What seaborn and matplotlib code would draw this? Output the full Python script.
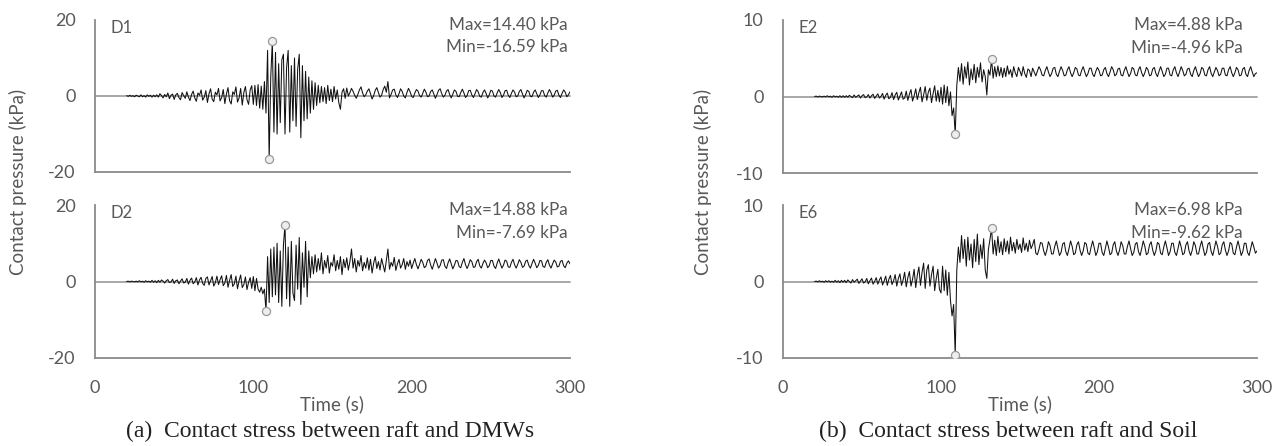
import numpy as np
import matplotlib
matplotlib.use("Agg")
import matplotlib.pyplot as plt
import seaborn as sns

# Sample clock of the records (s)
time_s = np.arange(20, 301)

# Contact pressure between raft and DMWs (kPa)
d1 = [
    0.1, -0.1, 0.2, -0.1, 0.1, -0.2, 0.2, 0.0, -0.2, 0.3, -0.2, 0.1, -0.3, 0.3, -0.1, 0.2, -0.3, 0.2, -0.2, 0.3,
    -0.3, 0.6, 0.1, -0.5, 0.4, -0.2, 0.8, -0.7, 0.2, 0.5, -0.9, 0.3, 0.7, -0.4, -1.0, 0.9, 0.1, -0.6, 1.1, -0.3,
    -1.2, 0.4, 1.3, -0.5, -1.4, 0.8, 0.2, 1.6, -1.1, -0.3, 1.4, -1.7, 0.6, 1.9, -0.8, -1.5, 1.0, 0.3, 2.0, -1.3,
    -0.4, 1.7, -2.0, 0.5, 2.2, -1.2, -2.1, 1.1, 0.4, 2.4, -1.6, -0.5, 2.0, -2.4, 0.9, 2.5, -1.0, -2.2, 1.6, 2.7,
    -2.2, 2.8, -2.5, 3.0, -3.2, 2.6, -3.5, 3.8, -4.5, 12.0, -16.59, 5.0, 14.40, -9.5, 11.5, -10.0, 8.5, -7.0, 9.5, 11.0,
    -10.0, 7.5, 12.0, -9.5, 8.0, -6.5, 10.0, -8.0, 7.0, 11.0, -11.0, 8.0, -6.5, 6.5, -6.0, 5.0, -4.5, 4.0, -3.5, 3.5,
    -2.5, 2.8, -1.8, 2.5, -1.5, 2.2, -2.0, 2.8, -1.2, 1.8, -1.5, 2.5, -0.8, 1.6, -1.8, -3.5, 1.0, 1.9, -0.6, 2.1,
    0.0, 0.9, 2.0, 1.2, 0.2, -0.6, 0.4, 1.6, 2.4, 0.8, -0.2, 0.3, 1.3, 1.9, 0.6, -0.8, 0.1, 1.5, 2.2, 0.9,
    -0.3, 0.2, 1.7, 2.6, 1.0, 3.8, -0.5, 0.4, 1.6, 1.8, 0.3, -0.4, 0.6, 1.9, 1.2, 0.0, -0.5, 0.9, 2.0, 1.1,
    -0.1, -0.4, 0.8, 1.7, 1.3, 0.1, -0.3, 0.7, 1.8, 1.0, -0.2, 0.0, 1.2, 1.6, 0.5, -0.6, 0.4, 1.5, 1.9, 0.6,
    -0.3, 0.2, 1.3, 1.7, 0.4, -0.5, 0.5, 1.6, 1.2, -0.1, -0.2, 0.9, 1.8, 0.8, -0.4, 0.1, 1.4, 1.5, 0.3, -0.4,
    0.6, 1.7, 1.1, -0.1, -0.3, 0.9, 1.6, 0.7, -0.5, 0.3, 1.5, 1.3, 0.0, -0.3, 0.8, 1.7, 0.9, -0.4, 0.2, 1.4,
    1.5, 0.2, -0.4, 0.7, 1.6, 1.0, -0.2, 0.0, 1.2, 1.7, 0.5, -0.5, 0.4, 1.5, 1.2, -0.1, -0.2, 1.0, 1.6, 0.6,
    -0.4, 0.3, 1.4, 1.4, 0.1, -0.3, 0.8, 1.7, 0.9, -0.3, 0.2, 1.3, 1.5, 0.2, -0.4, 0.7, 1.6, 1.0, -0.2, 0.3, 1.1,
]
d2 = [
    0.0, 0.1, -0.1, 0.1, 0.0, -0.1, 0.1, -0.1, 0.2, -0.1, 0.1, -0.2, 0.2, -0.1, 0.1, -0.2, 0.3, -0.2, 0.2, -0.3,
    0.3, -0.2, 0.4, 0.1, -0.4, 0.2, 0.5, -0.3, -0.1, 0.6, -0.5, 0.2, 0.4, -0.6, 0.1, 0.7, -0.4, -0.2, 0.8, -0.7,
    0.3, 0.9, -0.6, -0.1, 1.0, -0.9, 0.4, 1.1, -0.5, -1.0, 0.8, 1.2, -0.9, 0.2, 1.3, -1.2, -0.3, 1.4, -0.8, 0.5,
    1.5, -1.1, -0.4, 1.6, -1.5, 0.3, 1.8, -1.3, -0.6, 1.4, -1.9, 0.2, 1.7, -1.6, -0.8, 1.2, -2.1, -0.2, 1.0, -1.8,
    1.3, -2.4, 0.8, -2.0, -2.8, -1.5, -3.2, -2.0, -7.69, 6.5, -5.5, 8.5, -4.0, 9.0, -3.5, 10.0, -5.5, 8.0, -6.5, 9.5,
    14.88, -4.5, 9.0, -6.5, 10.5, -3.0, -5.0, 9.5, -2.0, 11.5, -6.0, 7.5, -1.5, 10.5, -4.0, 8.0, 1.0, 6.5, 2.0, 7.0,
    2.5, 6.0, 3.0, 7.5, 2.0, 5.5, 3.5, 6.8, 2.2, 5.0, 4.0, 7.0, 2.8, 5.5, 3.2, 6.5, 1.8, 5.8, 3.6, 6.2,
    3.0, 5.2, 8.5, 3.5, 6.0, 2.5, 5.5, 4.0, 6.8, 2.8, 5.0, 3.5, 6.2, 3.0, 5.8, 2.2, 4.8, 6.5, 3.4, 5.2,
    3.0, 6.0, 4.2, 2.5, 5.4, 8.5, 3.2, 5.0, 4.0, 6.3, 2.9, 4.6, 5.8, 3.5, 4.4, 6.0, 3.2, 5.2, 4.0, 5.6,
    3.4, 4.8, 6.0, 4.4, 3.3, 4.5, 5.8, 5.0, 3.6, 4.0, 5.5, 5.9, 4.3, 3.2, 4.6, 6.0, 4.8, 3.5, 4.2, 5.6,
    5.7, 4.0, 3.4, 4.9, 5.9, 4.6, 3.3, 4.3, 5.5, 5.4, 3.9, 3.6, 5.0, 6.0, 4.4, 3.4, 4.4, 5.7, 5.2, 3.7,
    3.8, 5.2, 5.8, 4.1, 3.5, 4.7, 5.6, 4.9, 3.6, 4.1, 5.5, 5.5, 4.0, 3.4, 4.8, 5.9, 4.6, 3.5, 4.3, 5.6,
    5.3, 3.8, 3.7, 5.0, 5.8, 4.4, 3.5, 4.5, 5.7, 5.0, 3.7, 4.0, 5.3, 5.6, 4.2, 3.5, 4.7, 5.8, 4.8, 3.6,
    4.2, 5.5, 5.4, 3.9, 3.7, 5.0, 5.7, 4.3, 3.5, 4.6, 5.6, 5.1, 3.8, 4.0, 5.3, 5.5, 4.1, 3.6, 4.8, 5.4, 4.6,
]

# Contact pressure between raft and soil (kPa)
e2 = [
    0.0, 0.05, -0.05, 0.05, 0.0, -0.05, 0.05, -0.05, 0.1, -0.05, 0.05, -0.1, 0.1, -0.05, 0.05, -0.1, 0.1, -0.1, 0.1, -0.1,
    0.1, -0.1, 0.15, 0.0, -0.15, 0.2, -0.1, 0.05, 0.2, -0.2, 0.1, 0.25, -0.15, -0.05, 0.25, -0.2, 0.1, 0.3, -0.25, 0.05,
    0.35, -0.2, 0.0, 0.4, -0.35, 0.15, 0.45, -0.3, -0.1, 0.5, -0.4, 0.2, 0.55, -0.45, 0.05, 0.6, -0.35, -0.2, 0.7, -0.5,
    0.3, 0.9, -0.6, 0.1, 1.0, -0.4, 0.5, 1.2, -0.7, 0.2, 1.3, -0.5, 0.6, 1.1, -0.8, 0.4, 1.4, -0.6, 0.8, -0.7,
    1.2, -1.0, 1.5, -0.8, 1.3, -1.2, 0.6, -2.5, -1.5, -4.96, 1.5, 3.8, 2.0, 4.3, 1.6, 3.9, 2.4, 4.5, 1.5, 3.6,
    2.2, 4.2, 1.8, 3.8, 2.5, 4.4, 1.9, 3.5, 2.6, 0.2, 3.5, 2.8, 4.88, 2.4, 3.9, 2.6, 4.0, 2.7, 3.8, 2.5,
    3.7, 2.6, 4.0, 2.9, 3.5, 2.5, 3.9, 3.1, 2.6, 3.8, 3.3, 2.7, 3.9, 3.0, 2.5, 3.6, 3.4, 2.6, 3.7, 3.2,
    2.7, 3.3, 3.9, 3.5, 2.8, 2.7, 3.4, 3.9, 3.2, 2.6, 3.0, 3.7, 3.8, 2.9, 2.6, 3.3, 3.9, 3.4, 2.7, 2.8,
    3.5, 3.9, 3.1, 2.6, 3.1, 3.8, 3.6, 2.8, 2.7, 3.4, 3.9, 3.2, 2.6, 3.0, 3.7, 3.7, 2.9, 2.6, 3.3, 3.8,
    3.4, 2.7, 2.8, 3.5, 3.8, 3.0, 2.6, 3.2, 3.9, 3.5, 2.7, 2.9, 3.6, 3.7, 2.8, 2.7, 3.4, 3.9, 3.2, 2.6,
    3.0, 3.8, 3.6, 2.8, 2.7, 3.5, 3.9, 3.1, 2.6, 3.1, 3.8, 3.5, 2.7, 2.8, 3.6, 3.8, 3.0, 2.6, 3.3, 3.9,
    3.3, 2.6, 2.9, 3.7, 3.7, 2.8, 2.7, 3.5, 3.9, 3.1, 2.6, 3.2, 3.9, 3.4, 2.7, 2.9, 3.6, 3.7, 2.9, 2.6,
    3.4, 3.9, 3.2, 2.6, 3.0, 3.8, 3.6, 2.8, 2.7, 3.5, 3.9, 3.0, 2.6, 3.2, 3.8, 3.4, 2.7, 2.9, 3.7, 3.7,
    2.8, 2.7, 3.5, 3.9, 3.1, 2.6, 3.1, 3.8, 3.5, 2.7, 2.8, 3.6, 3.8, 2.9, 2.6, 3.4, 3.9, 3.2, 2.6, 3.0, 3.1,
]
e6 = [
    0.0, 0.05, -0.05, 0.1, -0.05, 0.05, -0.1, 0.1, -0.05, 0.1, -0.1, 0.05, -0.1, 0.15, -0.1, 0.1, -0.15, 0.15, -0.1, 0.15,
    -0.15, 0.2, 0.0, -0.2, 0.25, -0.1, 0.1, 0.3, -0.25, 0.05, 0.35, -0.2, -0.05, 0.4, -0.3, 0.1, 0.45, -0.35, 0.0, 0.5,
    -0.35, 0.2, 0.6, -0.45, 0.05, 0.7, -0.5, 0.3, 0.8, -0.4, 0.1, 0.9, -0.6, 0.4, 1.0, -0.5, 0.2, 1.2, -0.7, 0.5,
    1.3, -0.6, 0.3, 1.6, -0.8, 0.8, 1.9, -0.5, 1.2, 2.4, -0.9, 1.5, 2.2, -0.6, 0.9, 2.0, -1.2, 0.4, 1.6, -1.0,
    -1.5, 2.0, -1.2, 1.5, -1.8, 1.2, -2.5, -4.5, -3.0, -9.62, 1.5, 4.5, 2.5, 6.0, 3.0, 5.5, 2.0, 5.8, 2.8, 4.9,
    1.8, 5.5, 2.6, 6.2, 2.2, 4.8, 3.0, 5.6, 1.5, 0.4, 4.2, 5.5, 6.98, 3.6, 5.4, 3.4, 5.9, 3.8, 5.2, 3.5,
    5.6, 3.9, 5.3, 3.6, 5.8, 4.0, 5.1, 3.7, 5.5, 4.2, 4.9, 3.8, 5.7, 4.1, 5.0, 3.9, 5.4, 4.3, 4.8, 5.5,
    3.7, 3.5, 4.2, 5.1, 5.0, 4.0, 3.4, 4.1, 5.2, 4.7, 3.6, 3.6, 4.6, 5.3, 4.3, 3.4, 3.8, 4.9, 5.1, 3.9,
    3.4, 4.3, 5.3, 4.6, 3.5, 3.7, 4.8, 5.2, 4.1, 3.4, 4.0, 5.1, 4.9, 3.7, 3.5, 4.5, 5.3, 4.4, 3.4, 3.9,
    5.0, 5.0, 3.8, 3.4, 4.3, 5.3, 4.5, 3.5, 3.7, 4.8, 5.2, 4.0, 3.4, 4.1, 5.2, 4.7, 3.6, 3.6, 4.6, 5.3,
    4.3, 3.4, 3.8, 4.9, 5.1, 3.9, 3.4, 4.3, 5.3, 4.6, 3.5, 3.7, 4.8, 5.2, 4.1, 3.4, 4.0, 5.1, 4.9, 3.7,
    3.5, 4.5, 5.3, 4.4, 3.4, 3.9, 5.0, 5.0, 3.8, 3.4, 4.3, 5.3, 4.5, 3.5, 3.7, 4.8, 5.2, 4.0, 3.4, 4.1,
    5.2, 4.7, 3.6, 3.6, 4.6, 5.3, 4.3, 3.4, 3.8, 4.9, 5.1, 3.9, 3.4, 4.3, 5.3, 4.6, 3.5, 3.7, 4.8, 5.2,
    4.1, 3.4, 4.0, 5.1, 4.9, 3.7, 3.5, 4.5, 5.3, 4.4, 3.4, 3.9, 5.0, 5.0, 3.8, 3.4, 4.3, 5.2, 4.5, 3.7, 4.0,
]

# Extremes of each record: time (s) and value (kPa)
d1_peak_t = [112, 110]
d1_peak_v = [14.40, -16.59]
d2_peak_t = [120, 108]
d2_peak_v = [14.88, -7.69]
e2_peak_t = [132, 109]
e2_peak_v = [4.88, -4.96]
e6_peak_t = [132, 109]
e6_peak_v = [6.98, -9.62]

panel_names = ["D1", "D2", "E2", "E6"]
y_limits = [20, 20, 10, 10]
x_ticks = [0, 100, 200, 300]
x_minor = [50, 150, 250]
captions = ["(a)  Contact stress between raft and DMWs",
            "(b)  Contact stress between raft and Soil"]
y_title = "Contact pressure (kPa)"
x_title = "Time (s)"

sns.set_style("white")
plt.rcParams["font.family"] = ["Lato", "DejaVu Sans"]

W, H = 1282, 446
fig = plt.figure(figsize=(W / 100, H / 100), dpi=100)

TXT = "#595959"
AXC = "#8a8a8a"


def px_axes(x0, x1, y0, y1):
    return fig.add_axes([x0 / W, (H - y1) / H, (x1 - x0) / W, (y1 - y0) / H])


boxes = [(95, 570, 20, 172), (95, 570, 205, 358),
         (783, 1257, 20, 173), (783, 1257, 205, 358)]
records = [(d1, d1_peak_t, d1_peak_v), (d2, d2_peak_t, d2_peak_v),
           (e2, e2_peak_t, e2_peak_v), (e6, e6_peak_t, e6_peak_v)]
text_right = [0.995, 0.995, 0.97, 0.97]

for i, (box, (vals, pk_t, pk_v)) in enumerate(zip(boxes, records)):
    ax = px_axes(*box)
    lim = y_limits[i]
    ax.axhline(0, color="#a8a8a8", lw=1.4, zorder=1, clip_on=False)
    sns.lineplot(x=time_s, y=np.asarray(vals), ax=ax, color="#111111",
                 lw=0.75, estimator=None, sort=False, zorder=3)
    sns.scatterplot(x=pk_t, y=pk_v, ax=ax, s=34, color="#eeeeee",
                    edgecolor="#999999", linewidth=0.9, zorder=4)
    ax.set_xlim(0, 300)
    ax.set_ylim(-lim, lim)
    ax.set_yticks([-lim, 0, lim])
    ax.set_xticks(x_ticks)
    ax.set_xticks(x_minor, minor=True)
    ax.set_xlabel("")
    ax.set_ylabel("")
    for s in ("top", "right"):
        ax.spines[s].set_visible(False)
    for s in ("left", "bottom"):
        ax.spines[s].set_color(AXC)
        ax.spines[s].set_linewidth(1.3)
    ax.tick_params(axis="y", direction="out", length=6, width=1.2,
                   color=AXC, labelcolor=TXT, labelsize=13, pad=8)
    ax.tick_params(axis="x", which="both", direction="inout", length=5,
                   width=1.0, color=AXC, labelcolor=TXT, labelsize=13,
                   pad=13, labelbottom=(i % 2 == 1))
    ax.set_yticklabels([str(-lim), "0", str(lim)])
    ax.text(0.032, 1.0, panel_names[i], transform=ax.transAxes,
            ha="left", va="top", fontsize=12, color=TXT)
    ax.text(text_right[i], 0.965, f"Max={pk_v[0]:.2f} kPa",
            transform=ax.transAxes, ha="right", va="center",
            fontsize=12.3, color=TXT)
    ax.text(text_right[i], 0.82, f"Min={pk_v[1]:.2f} kPa",
            transform=ax.transAxes, ha="right", va="center",
            fontsize=12.3, color=TXT)

# Shared axis titles and captions
for xc in (18, 703):
    fig.text(xc / W, 1 - 182 / H, y_title, rotation=90, ha="center",
             va="center", fontsize=13.5, color=TXT)
for xc in (332, 1020):
    fig.text(xc / W, 1 - 404 / H, x_title, ha="center", va="center",
             fontsize=13.5, color=TXT)
for xc, cap in zip((330, 1008), captions):
    fig.text(xc / W, 1 - 431 / H, cap, ha="center", va="center",
             fontsize=17, color="#222222", family=["Liberation Serif"])

fig.savefig("out.png", dpi=100)
